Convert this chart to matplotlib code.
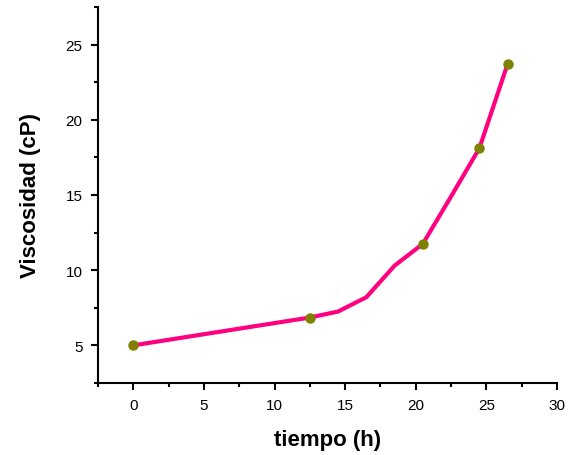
import matplotlib
matplotlib.use("Agg")
from matplotlib import pyplot as plt
from matplotlib.ticker import MultipleLocator

plt.rcParams['font.family'] = ['Liberation Sans', 'DejaVu Sans']

# curva de viscosidad (linea)
tiempo = [0, 12.5, 14.5, 16.5, 18.5, 20.5, 22.5, 24.5, 26.5]
viscosidad = [5.0, 6.85, 7.25, 8.2, 10.3, 11.75, 14.9, 18.1, 23.7]
# puntos medidos (marcadores)
t_med = [0, 12.5, 20.5, 24.5, 26.5]
v_med = [5.0, 6.85, 11.75, 18.1, 23.7]

fig = plt.figure(figsize=(5.75, 4.56), dpi=100)
ax = fig.add_axes([0.1704, 0.158, 0.7983, 0.8245])

ax.plot(tiempo, viscosidad, color="#ff0080", linewidth=3, solid_capstyle="round",
        solid_joinstyle="round", zorder=2)
ax.plot(t_med, v_med, "o", color="#808000", markersize=6.5, zorder=3)

ax.set_xlim(-2.5, 30)
ax.set_ylim(2.5, 27.5)
ax.xaxis.set_major_locator(MultipleLocator(5))
ax.xaxis.set_minor_locator(MultipleLocator(2.5))
ax.yaxis.set_major_locator(MultipleLocator(5))
ax.yaxis.set_minor_locator(MultipleLocator(2.5))
ax.set_yticks([5, 10, 15, 20, 25])

for s in ["top", "right"]:
    ax.spines[s].set_visible(False)
for s in ["left", "bottom"]:
    ax.spines[s].set_linewidth(1.5)

ax.tick_params(which="major", direction="out", length=5, width=1.5, labelsize=11, pad=6)
ax.tick_params(which="minor", direction="out", length=3, width=1.5)

ax.set_xlabel("tiempo (h)", fontsize=16, fontweight="bold", labelpad=12)
ax.set_ylabel("Viscosidad (cP)", fontsize=16, fontweight="bold", labelpad=18)

plt.savefig("out.png", dpi=100)
